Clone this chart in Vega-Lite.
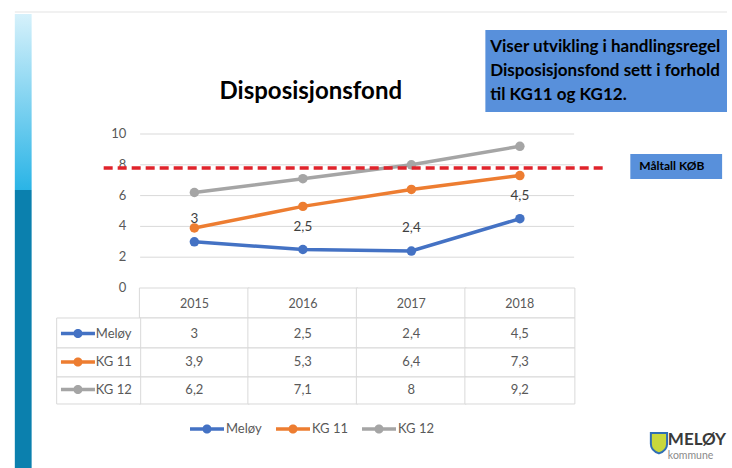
{
  "$schema": "https://vega.github.io/schema/vega-lite/v6.json",
  "width": 732,
  "height": 468,
  "padding": 0,
  "autosize": {"type": "none"},
  "background": "white",
  "config": {
    "view": {"stroke": null},
    "axis": {"disable": true},
    "locale": {"number": {"decimal": ",", "thousands": " ", "grouping": [3], "currency": ["", " kr"]}},
    "text": {"font": "Lato"}
  },
  "datasets": {
    "values": [
      {"series": "Meløy", "year": 2015, "value": 3},
      {"series": "Meløy", "year": 2016, "value": 2.5},
      {"series": "Meløy", "year": 2017, "value": 2.4},
      {"series": "Meløy", "year": 2018, "value": 4.5},
      {"series": "KG 11", "year": 2015, "value": 3.9},
      {"series": "KG 11", "year": 2016, "value": 5.3},
      {"series": "KG 11", "year": 2017, "value": 6.4},
      {"series": "KG 11", "year": 2018, "value": 7.3},
      {"series": "KG 12", "year": 2015, "value": 6.2},
      {"series": "KG 12", "year": 2016, "value": 7.1},
      {"series": "KG 12", "year": 2017, "value": 8},
      {"series": "KG 12", "year": 2018, "value": 9.2}
    ],
    "ticks": [{"tick": 0}, {"tick": 2}, {"tick": 4}, {"tick": 6}, {"tick": 8}, {"tick": 10}]
  },
  "data": {"name": "values"},
  "layer": [
    {
      "data": {"values": [{}]},
      "mark": {"type": "rule", "color": "#e3e3e3", "strokeWidth": 1},
      "encoding": {
        "x": {"datum": 2013.345, "type": "quantitative", "scale": {"domain": [2013.2545, 2019.9091], "nice": false, "zero": false}, "axis": null},
        "x2": {"datum": 2019.9091},
        "y": {"datum": 17.922, "type": "quantitative", "scale": {"domain": [-11.6883, 18.7013], "nice": false, "zero": false}, "axis": null}
      }
    },
    {
      "data": {"values": [{}]},
      "mark": {"type": "rect", "fill": {"gradient": "linear", "x1": 0, "y1": 0, "x2": 0, "y2": 1, "stops": [{"offset": 0, "color": "#d6f1fb"}, {"offset": 1, "color": "#2ab4e6"}]}},
      "encoding": {
        "x": {"datum": 2013.345, "type": "quantitative"},
        "x2": {"datum": 2013.5},
        "y": {"datum": 17.792, "type": "quantitative"},
        "y2": {"datum": 6.364}
      }
    },
    {
      "data": {"values": [{}]},
      "mark": {"type": "rect", "fill": "#0b80ae"},
      "encoding": {
        "x": {"datum": 2013.345, "type": "quantitative"},
        "x2": {"datum": 2013.5},
        "y": {"datum": 6.364, "type": "quantitative"},
        "y2": {"datum": -11.6883}
      }
    },
    {
      "data": {"values": [{}]},
      "mark": {"type": "text", "fontSize": 24, "fontWeight": "bold", "color": "#000000", "align": "center", "baseline": "middle"},
      "encoding": {
        "x": {"datum": 2016.073, "type": "quantitative"},
        "y": {"datum": 12.727, "type": "quantitative"},
        "text": {"value": "Disposisjonsfond"}
      }
    },
    {
      "data": {"values": [{}]},
      "mark": {"type": "rect", "fill": "#5890db"},
      "encoding": {
        "x": {"datum": 2017.682, "type": "quantitative"},
        "x2": {"datum": 2019.9091},
        "y": {"datum": 16.753, "type": "quantitative"},
        "y2": {"datum": 11.429}
      }
    },
    {
      "data": {"values": [{}]},
      "mark": {"type": "text", "fontSize": 17, "fontWeight": "bold", "color": "#000000", "align": "left", "baseline": "middle", "lineHeight": 24},
      "encoding": {
        "x": {"datum": 2017.727, "type": "quantitative"},
        "y": {"datum": 15.649, "type": "quantitative"},
        "text": {"value": ["Viser utvikling i handlingsregel", "Disposisjonsfond sett i forhold", "til KG11 og KG12."]}
      }
    },
    {
      "data": {"name": "ticks"},
      "transform": [{"filter": "datum.tick > 0"}],
      "mark": {"type": "rule", "color": "#d9d9d9", "strokeWidth": 1},
      "encoding": {
        "x": {"datum": 2014.5, "type": "quantitative"},
        "x2": {"datum": 2018.5},
        "y": {"field": "tick", "type": "quantitative"}
      }
    },
    {
      "data": {"name": "ticks"},
      "mark": {"type": "text", "fontSize": 13, "color": "#595959", "align": "right", "baseline": "middle"},
      "encoding": {
        "x": {"datum": 2014.373, "type": "quantitative"},
        "y": {"field": "tick", "type": "quantitative"},
        "text": {"field": "tick", "type": "quantitative", "format": "d"}
      }
    },
    {
      "transform": [{"filter": "datum.series === 'Meløy'"}],
      "layer": [
        {
          "mark": {"type": "bar", "width": 110, "fill": "white", "stroke": "#d9d9d9", "strokeWidth": 1},
          "encoding": {
            "x": {"field": "year", "type": "quantitative"},
            "y": {"datum": 0, "type": "quantitative"},
            "y2": {"datum": -1.948}
          }
        },
        {
          "mark": {"type": "text", "fontSize": 12.5, "color": "#595959", "baseline": "middle"},
          "encoding": {
            "x": {"field": "year", "type": "quantitative"},
            "y": {"datum": -1.039, "type": "quantitative"},
            "text": {"field": "year", "type": "quantitative", "format": "d"}
          }
        }
      ]
    },
    {
      "transform": [{"filter": "datum.series === 'Meløy'"}],
      "layer": [
        {
          "mark": {"type": "bar", "width": 110, "fill": "white", "stroke": "#d9d9d9", "strokeWidth": 1},
          "encoding": {"x": {"field": "year", "type": "quantitative"}, "y": {"datum": -1.948, "type": "quantitative"}, "y2": {"datum": -3.896}}
        },
        {
          "transform": [{"filter": "datum.year === 2015"}],
          "mark": {"type": "bar", "width": 84, "fill": "white", "stroke": "#d9d9d9", "strokeWidth": 1},
          "encoding": {"x": {"datum": 2014.118, "type": "quantitative"}, "y": {"datum": -1.948, "type": "quantitative"}, "y2": {"datum": -3.896}}
        },
        {
          "mark": {"type": "text", "fontSize": 13, "color": "#595959", "baseline": "middle"},
          "encoding": {"x": {"field": "year", "type": "quantitative"}, "y": {"datum": -2.955, "type": "quantitative"}, "text": {"field": "value", "type": "quantitative", "format": ".2~r"}}
        },
        {
          "transform": [{"filter": "datum.year === 2015"}],
          "mark": {"type": "point", "shape": "M-1,-0.1H1V0.1H-1Z M0.27,0A0.27,0.27 0 1 1 -0.27,0A0.27,0.27 0 1 1 0.27,0Z", "size": 1156, "filled": true, "opacity": 1, "strokeWidth": 0},
          "encoding": {"x": {"datum": 2013.927, "type": "quantitative"}, "y": {"datum": -2.955, "type": "quantitative"}, "color": {"field": "series", "type": "nominal"}}
        },
        {
          "transform": [{"filter": "datum.year === 2015"}],
          "mark": {"type": "text", "fontSize": 13, "color": "#595959", "align": "left", "baseline": "middle"},
          "encoding": {"x": {"datum": 2014.091, "type": "quantitative"}, "y": {"datum": -2.955, "type": "quantitative"}, "text": {"field": "series", "type": "nominal"}}
        }
      ]
    },
    {
      "transform": [{"filter": "datum.series === 'KG 11'"}],
      "layer": [
        {
          "mark": {"type": "bar", "width": 110, "fill": "white", "stroke": "#d9d9d9", "strokeWidth": 1},
          "encoding": {"x": {"field": "year", "type": "quantitative"}, "y": {"datum": -3.896, "type": "quantitative"}, "y2": {"datum": -5.779}}
        },
        {
          "transform": [{"filter": "datum.year === 2015"}],
          "mark": {"type": "bar", "width": 84, "fill": "white", "stroke": "#d9d9d9", "strokeWidth": 1},
          "encoding": {"x": {"datum": 2014.118, "type": "quantitative"}, "y": {"datum": -3.896, "type": "quantitative"}, "y2": {"datum": -5.779}}
        },
        {
          "mark": {"type": "text", "fontSize": 13, "color": "#595959", "baseline": "middle"},
          "encoding": {"x": {"field": "year", "type": "quantitative"}, "y": {"datum": -4.805, "type": "quantitative"}, "text": {"field": "value", "type": "quantitative", "format": ".2~r"}}
        },
        {
          "transform": [{"filter": "datum.year === 2015"}],
          "mark": {"type": "point", "shape": "M-1,-0.1H1V0.1H-1Z M0.27,0A0.27,0.27 0 1 1 -0.27,0A0.27,0.27 0 1 1 0.27,0Z", "size": 1156, "filled": true, "opacity": 1, "strokeWidth": 0},
          "encoding": {"x": {"datum": 2013.927, "type": "quantitative"}, "y": {"datum": -4.805, "type": "quantitative"}, "color": {"field": "series", "type": "nominal"}}
        },
        {
          "transform": [{"filter": "datum.year === 2015"}],
          "mark": {"type": "text", "fontSize": 13, "color": "#595959", "align": "left", "baseline": "middle"},
          "encoding": {"x": {"datum": 2014.091, "type": "quantitative"}, "y": {"datum": -4.805, "type": "quantitative"}, "text": {"field": "series", "type": "nominal"}}
        }
      ]
    },
    {
      "transform": [{"filter": "datum.series === 'KG 12'"}],
      "layer": [
        {
          "mark": {"type": "bar", "width": 110, "fill": "white", "stroke": "#d9d9d9", "strokeWidth": 1},
          "encoding": {"x": {"field": "year", "type": "quantitative"}, "y": {"datum": -5.779, "type": "quantitative"}, "y2": {"datum": -7.532}}
        },
        {
          "transform": [{"filter": "datum.year === 2015"}],
          "mark": {"type": "bar", "width": 84, "fill": "white", "stroke": "#d9d9d9", "strokeWidth": 1},
          "encoding": {"x": {"datum": 2014.118, "type": "quantitative"}, "y": {"datum": -5.779, "type": "quantitative"}, "y2": {"datum": -7.532}}
        },
        {
          "mark": {"type": "text", "fontSize": 13, "color": "#595959", "baseline": "middle"},
          "encoding": {"x": {"field": "year", "type": "quantitative"}, "y": {"datum": -6.591, "type": "quantitative"}, "text": {"field": "value", "type": "quantitative", "format": ".2~r"}}
        },
        {
          "transform": [{"filter": "datum.year === 2015"}],
          "mark": {"type": "point", "shape": "M-1,-0.1H1V0.1H-1Z M0.27,0A0.27,0.27 0 1 1 -0.27,0A0.27,0.27 0 1 1 0.27,0Z", "size": 1156, "filled": true, "opacity": 1, "strokeWidth": 0},
          "encoding": {"x": {"datum": 2013.927, "type": "quantitative"}, "y": {"datum": -6.591, "type": "quantitative"}, "color": {"field": "series", "type": "nominal"}}
        },
        {
          "transform": [{"filter": "datum.year === 2015"}],
          "mark": {"type": "text", "fontSize": 13, "color": "#595959", "align": "left", "baseline": "middle"},
          "encoding": {"x": {"datum": 2014.091, "type": "quantitative"}, "y": {"datum": -6.591, "type": "quantitative"}, "text": {"field": "series", "type": "nominal"}}
        }
      ]
    },
    {
      "mark": {"type": "line", "strokeWidth": 3.5, "point": {"filled": true, "size": 90, "opacity": 1}},
      "encoding": {
        "x": {"field": "year", "type": "quantitative"},
        "y": {"field": "value", "type": "quantitative"},
        "color": {
          "field": "series",
          "type": "nominal",
          "scale": {"domain": ["Meløy", "KG 11", "KG 12"], "range": ["#4472c4", "#ed7d31", "#a5a5a5"]},
          "legend": {
            "orient": "none",
            "legendX": 190,
            "legendY": 412,
            "direction": "horizontal",
            "title": null,
            "symbolType": "M-1,-0.1H1V0.1H-1Z M0.27,0A0.27,0.27 0 1 1 -0.27,0A0.27,0.27 0 1 1 0.27,0Z",
            "symbolSize": 1156,
            "symbolStrokeWidth": 0,
            "symbolOpacity": 1,
            "labelFontSize": 13,
            "labelFont": "Lato",
            "labelColor": "#595959",
            "columnPadding": 14,
            "labelOffset": 2,
            "padding": 0,
            "encode": {"symbols": {"update": {"fill": {"scale": "color", "field": "value"}, "stroke": {"value": "transparent"}}}}
          }
        }
      }
    },
    {
      "transform": [{"filter": "datum.series === 'Meløy'"}],
      "mark": {"type": "text", "fontSize": 13.5, "color": "#404040", "dy": -23, "baseline": "middle"},
      "encoding": {
        "x": {"field": "year", "type": "quantitative"},
        "y": {"field": "value", "type": "quantitative"},
        "text": {"field": "value", "type": "quantitative", "format": ".2~r"}
      }
    },
    {
      "data": {"values": [{}]},
      "mark": {"type": "rule", "color": "#e0232b", "strokeWidth": 3.5, "strokeDash": [9, 5]},
      "encoding": {
        "x": {"datum": 2014.164, "type": "quantitative"},
        "x2": {"datum": 2018.773},
        "y": {"datum": 7.8, "type": "quantitative"}
      }
    },
    {
      "data": {"values": [{}]},
      "mark": {"type": "rect", "fill": "#5890db"},
      "encoding": {
        "x": {"datum": 2019.018, "type": "quantitative"},
        "x2": {"datum": 2019.864},
        "y": {"datum": 8.701, "type": "quantitative"},
        "y2": {"datum": 7.078}
      }
    },
    {
      "data": {"values": [{}]},
      "mark": {"type": "text", "fontSize": 12, "fontWeight": "bold", "color": "#000000", "align": "center", "baseline": "middle"},
      "encoding": {
        "x": {"datum": 2019.4, "type": "quantitative"},
        "y": {"datum": 7.89, "type": "quantitative"},
        "text": {"value": "Måltall KØB"}
      }
    },
    {
      "data": {"values": [{}]},
      "mark": {"type": "point", "shape": "M-0.9,-1.1H0.9V0.1C0.9,0.7 0.4,1 0,1.15C-0.4,1 -0.9,0.7 -0.9,0.1Z", "size": 324, "filled": true, "fill": "#c9d83c", "stroke": "#2f6eb5", "strokeWidth": 2, "opacity": 1},
      "encoding": {
        "x": {"datum": 2019.282, "type": "quantitative"},
        "y": {"datum": -10.065, "type": "quantitative"}
      }
    },
    {
      "data": {"values": [{}]},
      "mark": {"type": "text", "fontSize": 17, "fontWeight": "bold", "color": "#3a3a3a", "align": "left", "baseline": "middle"},
      "encoding": {
        "x": {"datum": 2019.364, "type": "quantitative"},
        "y": {"datum": -9.87, "type": "quantitative"},
        "text": {"value": "MELØY"}
      }
    },
    {
      "data": {"values": [{}]},
      "mark": {"type": "text", "fontSize": 10.5, "color": "#8a8a8a", "align": "left", "baseline": "middle"},
      "encoding": {
        "x": {"datum": 2019.364, "type": "quantitative"},
        "y": {"datum": -10.91, "type": "quantitative"},
        "text": {"value": "kommune"}
      }
    }
  ]
}
